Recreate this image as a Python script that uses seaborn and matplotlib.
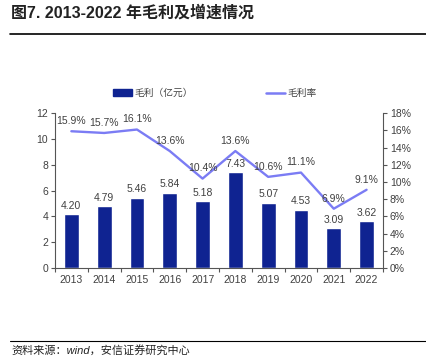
import matplotlib
matplotlib.use('Agg')
import matplotlib.pyplot as plt
from matplotlib.ticker import FixedLocator, PercentFormatter
from matplotlib.patches import Patch
from matplotlib.lines import Line2D
import seaborn as sns
import numpy as np
import pandas as pd

# ===========================================================
# DATA
# ===========================================================
years  = ['2013', '2014', '2015', '2016', '2017', '2018', '2019', '2020', '2021', '2022']
profit = [4.20, 4.79, 5.46, 5.84, 5.18, 7.43, 5.07, 4.53, 3.09, 3.62]   # 毛利（亿元）
margin = [15.9, 15.7, 16.1, 13.6, 10.4, 13.6, 10.6, 11.1, 6.9, 9.1]     # 毛利率 %

BAR_COLOR  = '#0f2391'
LINE_COLOR = '#7b7cf4'
TXT_COLOR  = '#404040'

sns.set_theme(style='white')
plt.rcParams['font.family'] = ['Liberation Sans', 'Noto Sans CJK SC', 'DejaVu Sans']

df = pd.DataFrame({'year': years, 'profit': profit, 'margin': margin})

fig = plt.figure(figsize=(4.26, 3.57), dpi=100)
ax = fig.add_axes([0.129, 0.249, 0.770, 0.434])

sns.barplot(data=df, x='year', y='profit', color=BAR_COLOR, width=0.45,
            saturation=1, ax=ax)
ax.set_xlim(-0.5, len(years) - 0.5)
ax.set_ylim(0, 12)
ax.set_yticks(np.arange(0, 13, 2))
ax.set_xlabel('')
ax.set_ylabel('')
for i, v in enumerate(profit):
    ax.text(i, v + 0.25, f'{v:.2f}', ha='center', va='bottom', fontsize=7.5, color=TXT_COLOR)

ax2 = ax.twinx()
sns.lineplot(x=np.arange(len(years)), y=margin, color=LINE_COLOR, linewidth=1.7, ax=ax2)
ax2.set_ylim(0, 18)
ax2.set_yticks(np.arange(0, 19, 2))
ax2.yaxis.set_major_formatter(PercentFormatter(decimals=0))
for i, v in enumerate(margin):
    ax2.text(i, v + 0.6, f'{v:.1f}%', ha='center', va='bottom', fontsize=7.5, color=TXT_COLOR)

# spines / ticks
for a in (ax, ax2):
    a.spines['top'].set_visible(False)
    for s in ('left', 'right', 'bottom'):
        a.spines[s].set_color('#555555')
        a.spines[s].set_linewidth(0.8)
ax.spines['right'].set_visible(False)
ax2.spines['left'].set_visible(False)
ax2.spines['bottom'].set_visible(False)

ax.tick_params(axis='y', which='major', direction='out', length=3, width=0.8,
               color='#555555', labelsize=7.5, labelcolor=TXT_COLOR, pad=2, left=True)
ax2.tick_params(axis='y', which='major', direction='out', length=3, width=0.8,
                color='#555555', labelsize=7.5, labelcolor=TXT_COLOR, pad=2, right=True)
ax.xaxis.set_minor_locator(FixedLocator(np.arange(-0.5, len(years), 1.0)))
ax.tick_params(axis='x', which='major', length=0, labelsize=7.5, labelcolor=TXT_COLOR, pad=5)
ax.tick_params(axis='x', which='minor', direction='out', length=3, width=0.8,
               color='#555555', bottom=True)

# legend
handles = [Patch(facecolor=BAR_COLOR, edgecolor=BAR_COLOR),
           Line2D([0], [0], color=LINE_COLOR, linewidth=1.8)]
fig.legend(handles, ['毛利（亿元）', '毛利率'], loc='center', bbox_to_anchor=(0.505, 0.739),
           ncol=2, frameon=False, fontsize=7, handlelength=1.9, handleheight=0.7,
           handletextpad=0.3, columnspacing=7.5, labelcolor=TXT_COLOR)

# title + rules
fig.text(0.026, 0.965, '图7. 2013-2022 年毛利及增速情况', fontsize=11.5, fontweight='bold',
         color='#222222', va='center', ha='left')
fig.add_artist(Line2D([0.023, 1.0], [0.905, 0.905], color='black', linewidth=1.2,
                      transform=fig.transFigure))
fig.add_artist(Line2D([0.023, 1.0], [0.045, 0.045], color='black', linewidth=0.8,
                      transform=fig.transFigure))
fig.text(0.028, 0.019, '资料来源：wind，安信证券研究中心', fontsize=8, color='#222222',
         va='center', ha='left', style='italic')

fig.savefig('out.png', dpi=100)
